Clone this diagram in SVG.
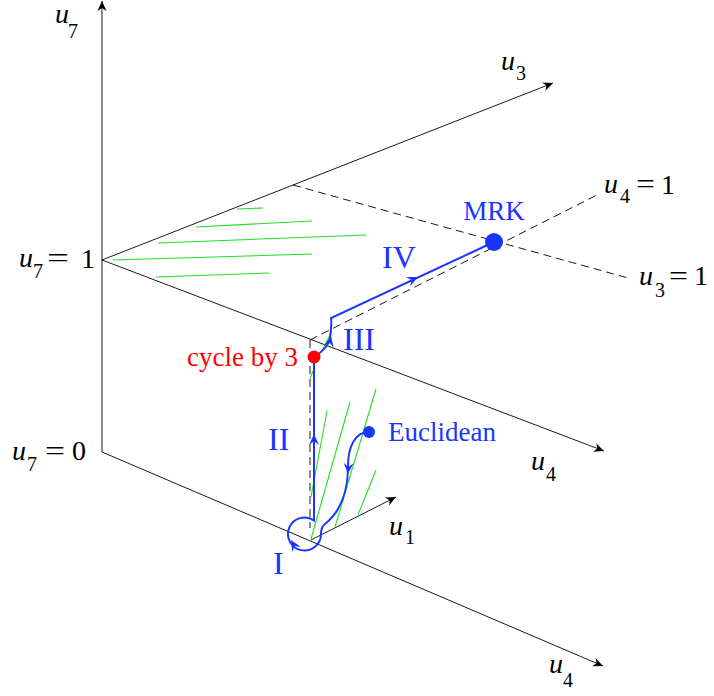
<svg xmlns="http://www.w3.org/2000/svg" xmlns:xlink="http://www.w3.org/1999/xlink" width="714" height="696" viewBox="0 0 714 696">
<style>
.ax{stroke:#000;stroke-width:0.9;fill:none}
.ds{stroke:#000;stroke-width:0.9;fill:none;stroke-dasharray:8 5}
.hg{stroke:#22dd22;stroke-width:1.1;fill:none}
.bl{stroke:#1a35ff;stroke-width:2;fill:none}
text{font-family:'Liberation Serif','Times New Roman','DejaVu Serif',serif}
.mi{font-style:italic;font-size:28px;fill:#000}
.mr{font-size:28px;fill:#000}
.sb{font-size:20px;fill:#000}
.lb{font-size:27px;fill:#1a35ff}
.rn{font-size:32px;fill:#1a35ff}
.rd{font-size:27px;fill:#ff0000}
</style>
<defs>
<marker id="ah" viewBox="-11 -5 12 10" refX="0" refY="0" markerWidth="12" markerHeight="10" markerUnits="userSpaceOnUse" orient="auto">
<path d="M0,0 L-10,-4.5 L-7,0 L-10,4.5 Z" fill="#000"/>
</marker>
<path id="ba" d="M0,0 L-11,-5 L-7,0 L-11,5 Z" fill="#1a35ff"/>
</defs>

<g id="axes">
<line class="ax" x1="102" y1="452" x2="102" y2="1" marker-end="url(#ah)"/>
<line class="ax" x1="102" y1="260" x2="553" y2="83" marker-end="url(#ah)"/>
<line class="ax" x1="102" y1="260" x2="604" y2="451" marker-end="url(#ah)"/>
<line class="ax" x1="102" y1="452" x2="603" y2="666" marker-end="url(#ah)"/>
<line class="ax" x1="311" y1="540" x2="396" y2="497" marker-end="url(#ah)"/>
<line class="ds" x1="293" y1="185" x2="628" y2="278"/>
<line class="ds" x1="310" y1="340" x2="597" y2="195"/>
<line class="ds" x1="310" y1="340" x2="310" y2="528"/>
</g>

<g id="hatch-upper">
<line class="hg" x1="237" y1="209" x2="263" y2="208"/>
<line class="hg" x1="196" y1="227" x2="312" y2="221"/>
<line class="hg" x1="158" y1="243" x2="366" y2="235"/>
<line class="hg" x1="113" y1="260" x2="312" y2="254"/>
<line class="hg" x1="156" y1="277" x2="269" y2="273"/>
</g>

<g id="hatch-lower">
<line class="hg" x1="311" y1="497" x2="327" y2="411"/>
<line class="hg" x1="311" y1="539" x2="350" y2="402"/>
<line class="hg" x1="335" y1="527" x2="376" y2="389"/>
<line class="hg" x1="358" y1="515" x2="376" y2="470"/>
<line class="hg" x1="310" y1="378" x2="314" y2="369"/>
<line class="hg" x1="322" y1="351" x2="331" y2="333"/>
</g>

<g id="axis-labels" font-family="Liberation Serif, Times New Roman, DejaVu Serif, serif">
<text class="mi" x="55" y="23">u</text><text class="sb" x="68" y="38">7</text>
<text class="mi" x="19" y="267">u</text><text class="sb" x="33" y="278">7</text><text class="mr" x="47" y="267" textLength="22" lengthAdjust="spacingAndGlyphs">=</text><text class="mr" x="81" y="268">1</text>
<text class="mi" x="12" y="460">u</text><text class="sb" x="27" y="471">7</text><text class="mr" x="45" y="460" textLength="20" lengthAdjust="spacingAndGlyphs">=</text><text class="mr" x="72" y="460">0</text>
<text class="mi" x="501" y="70">u</text><text class="sb" x="516" y="80">3</text>
<text class="mi" x="604" y="193">u</text><text class="sb" x="620" y="203">4</text><text class="mr" x="636" y="193" textLength="19" lengthAdjust="spacingAndGlyphs">=</text><text class="mr" x="661" y="194">1</text>
<text class="mi" x="639" y="285">u</text><text class="sb" x="655" y="297">3</text><text class="mr" x="669" y="285" textLength="19" lengthAdjust="spacingAndGlyphs">=</text><text class="mr" x="694" y="285">1</text>
<text class="mi" x="531" y="470">u</text><text class="sb" x="546" y="481">4</text>
<text class="mi" x="549" y="673">u</text><text class="sb" x="563" y="687">4</text>
<text class="mi" x="389" y="535">u</text><text class="sb" x="405" y="544">1</text>
</g>

<g id="connectors">
<path class="bl" d="M369,432 C355,432 348,447 348,466 C348,492 340,512 325,524 C321,527 321,531 321,534 A16.5,16.5 0 1 1 314,520.5 L314,357"/>
<path class="bl" d="M314,357 C322,352 329,346 330,338 C331,330 332,322 331,318 L494,242"/>
<use xlink:href="#ba" transform="translate(314,434) rotate(-90)"/>
<use xlink:href="#ba" transform="translate(348,474) rotate(93)"/>
<use xlink:href="#ba" transform="translate(291,540) rotate(-120)"/>
<use xlink:href="#ba" transform="translate(331,336) rotate(-78)"/>
<use xlink:href="#ba" transform="translate(418,277) rotate(-25)"/>
</g>

<g id="node-euclidean" font-family="Liberation Serif, Times New Roman, DejaVu Serif, serif">
<circle cx="369" cy="432" r="6" fill="#1a35ff"/>
<text class="lb" x="388" y="441">Euclidean</text>
</g>
<g id="node-mrk" font-family="Liberation Serif, Times New Roman, DejaVu Serif, serif">
<circle cx="494" cy="242" r="9" fill="#1a35ff"/>
<text class="lb" x="494" y="220" text-anchor="middle" font-size="25">MRK</text>
</g>
<g id="node-cycle3" font-family="Liberation Serif, Times New Roman, DejaVu Serif, serif">
<circle cx="314" cy="357" r="6.5" fill="#ff0000"/>
<text class="rd" x="187" y="366">cycle by 3</text>
</g>
<g id="labels-roman" font-family="Liberation Serif, Times New Roman, DejaVu Serif, serif">
<text id="label-I" class="rn" x="273" y="574">I</text>
<text id="label-II" class="rn" x="268" y="450">II</text>
<text id="label-III" class="rn" x="343" y="350">III</text>
<text id="label-IV" class="rn" x="382" y="268">IV</text>
</g>
</svg>
